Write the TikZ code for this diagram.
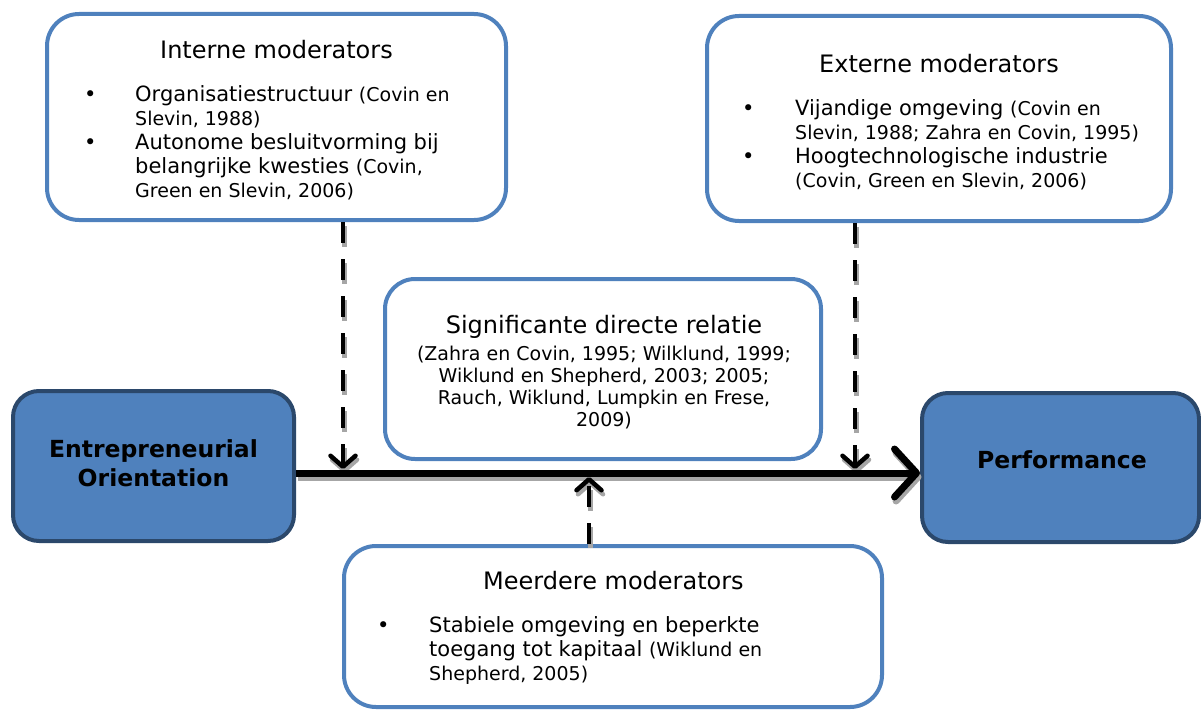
\documentclass[tikz,border=0pt]{standalone}
\usepackage{fontspec}
\setmainfont{DejaVu Sans}
\usetikzlibrary{arrows.meta}

\definecolor{boxblue}{HTML}{4F81BD}
\definecolor{boxedge}{HTML}{2B486B}
\definecolor{shadowgray}{HTML}{A6A6A6}

\newcommand{\ttlsize}{\fontsize{24}{28}\selectfont}
\newcommand{\bodysize}{\fontsize{21}{24.2}\selectfont}
\newcommand{\refsize}{\fontsize{19}{24}\selectfont}
\newcommand{\refnote}[1]{{\refsize #1}}

\tikzset{
  modbox/.style={draw=boxblue, line width=4pt, fill=white, rounded corners=32pt, inner sep=0pt},
  mainbox/.style={draw=boxedge, line width=4pt, fill=boxblue, rounded corners=26pt, inner sep=0pt},
  ttl/.style={font=\ttlsize, inner sep=0pt, anchor=base},
  lst/.style={font=\bodysize, inner sep=0pt, anchor=base west},
  boldlbl/.style={font=\fontsize{23.5}{29.5}\selectfont\bfseries, inner sep=0pt, anchor=base},
  mainarrow/.style={line width=7pt, -{Straight Barb[length=22pt,width=48pt,round]}},
  modarrow/.style={line width=4.5pt, dash pattern=on 21pt off 16pt, -{Straight Barb[length=11pt,width=25pt,round]}},
  shadowpass/.style={draw=shadowgray, transform canvas={shift={(1.5pt,-4pt)}}},
  inkpass/.style={draw=black},
}

\begin{document}
\begin{tikzpicture}[x=1pt, y=-1pt]
\useasboundingbox (0,0) rectangle (1201,709);

% boxes
\node[modbox, minimum width=459pt, minimum height=206pt] (intern) at (276.5,117) {};
\node[modbox, minimum width=464pt, minimum height=205pt] (extern) at (939,118.5) {};
\node[modbox, minimum width=436pt, minimum height=180pt, rounded corners=30pt] (direct) at (603,369) {};
\node[modbox, minimum width=538pt, minimum height=161pt] (multi) at (613,626.5) {};
\node[mainbox, minimum width=281pt, minimum height=150pt] (eo) at (153.5,466) {};
\node[mainbox, minimum width=277pt, minimum height=149pt] (perf) at (1060.5,467.5) {};

% box texts
\node[ttl] (internT) at (276.5,59) {Interne moderators};
\node[lst] (internL) at (84,101) {\begin{tabular}[t]{@{}p{51pt}@{}l@{}}
  \textbullet & Organisatiestructuur \refnote{(Covin en}\\
   & \refnote{Slevin, 1988)}\\
  \textbullet & Autonome besluitvorming bij\\
   & belangrijke kwesties \refnote{(Covin,}\\
   & \refnote{Green en Slevin, 2006)}
\end{tabular}};

\node[ttl] (externT) at (939,73) {Externe moderators};
\node[lst] (externL) at (742,115) {\begin{tabular}[t]{@{}p{53pt}@{}l@{}}
  \textbullet & Vijandige omgeving \refnote{(Covin en}\\
   & \refnote{Slevin, 1988; Zahra en Covin, 1995)}\\
  \textbullet & Hoogtechnologische industrie\\
   & \refnote{(Covin, Green en Slevin, 2006)}
\end{tabular}};

\node[ttl] (directT) at (604,333) {Significante directe relatie};
\node[inner sep=0pt, anchor=base, font=\fontsize{19}{22.3}\selectfont] (directL) at (604,360) {\begin{tabular}[t]{@{}c@{}}
  (Zahra en Covin, 1995; Wilklund, 1999;\\
  Wiklund en Shepherd, 2003; 2005;\\
  Rauch, Wiklund, Lumpkin en Frese,\\
  2009)
\end{tabular}};

\node[ttl] (multiT) at (613.5,589) {Meerdere moderators};
\node[lst] (multiL) at (377,632) {\begin{tabular}[t]{@{}p{52pt}@{}l@{}}
  \textbullet & Stabiele omgeving en beperkte\\
   & toegang tot kapitaal \refnote{(Wiklund en}\\
   & \refnote{Shepherd, 2005)}
\end{tabular}};

\node[boldlbl] (eoT) at (153.5,457) {\begin{tabular}[t]{@{}c@{}}Entrepreneurial\\Orientation\end{tabular}};
\node[boldlbl] (perfT) at (1062,468) {Performance};

% points where the moderating effects meet the main relation
\coordinate (tapL) at (343,469);
\coordinate (tapR) at (855,469);
\coordinate (tapB) at (589,477);

% connectors, first their grey shadow, then in black
\foreach \layer in {shadowpass,inkpass}{
  \draw[mainarrow,\layer] (eo.east |- 0,473) -- (perf.west |- 0,473);
  \draw[modarrow,\layer] (intern.south -| tapL) -- (tapL);
  \draw[modarrow,\layer] (extern.south -| tapR) -- (tapR);
  \draw[modarrow,\layer] (multi.north -| tapB) -- (tapB);
}
\end{tikzpicture}
\end{document}
